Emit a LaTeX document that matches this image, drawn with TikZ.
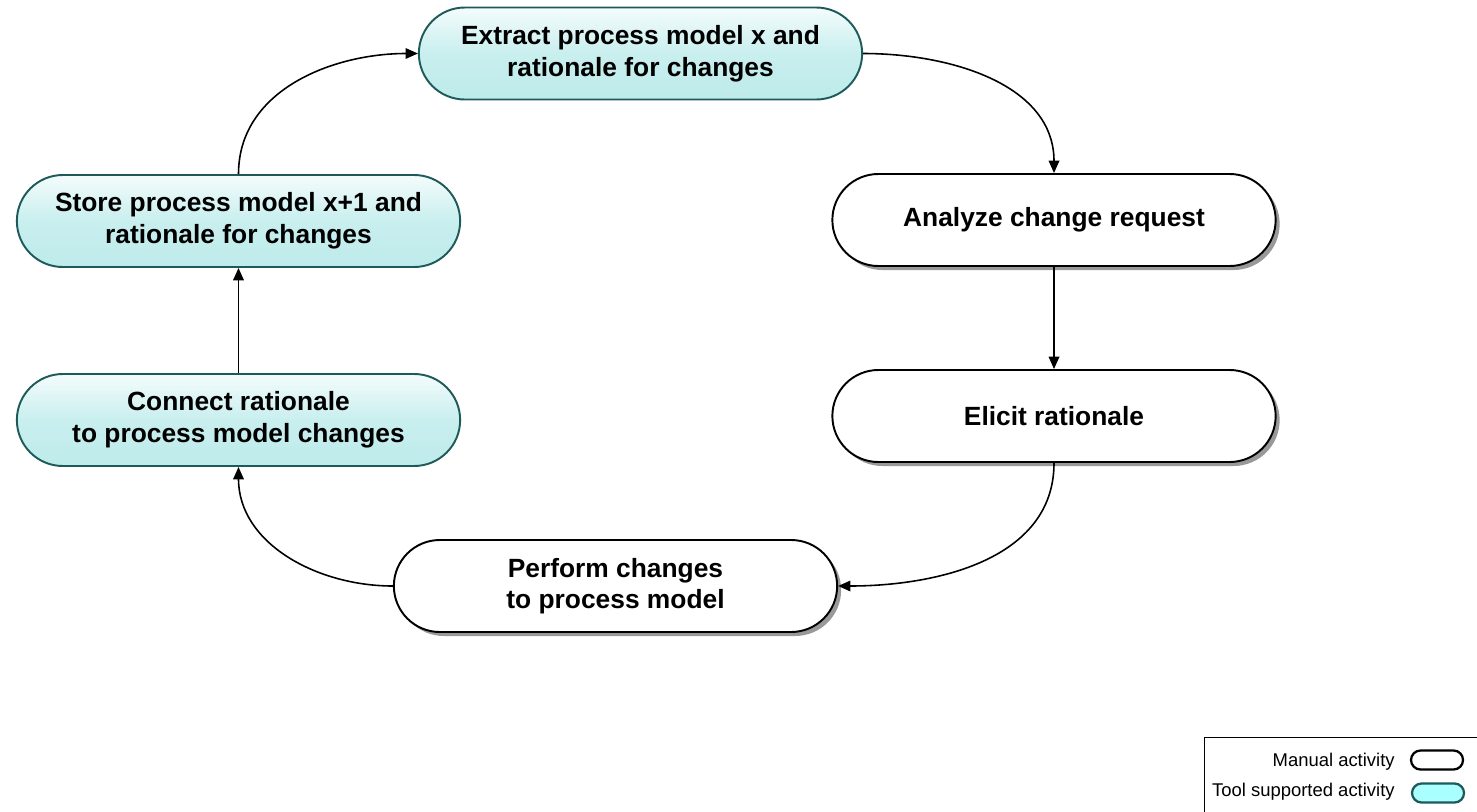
\documentclass[tikz,border=0pt]{standalone}
\usepackage{fontspec}
\setmainfont{Liberation Sans}
\usepackage{tikz}
\usetikzlibrary{shapes.misc, arrows.meta, shadows}
\definecolor{tealedge}{RGB}{30, 90, 90}
\definecolor{tealtop}{RGB}{244, 252, 252}
\definecolor{tealbot}{RGB}{190, 235, 235}
\definecolor{legcyan}{RGB}{170, 255, 255}

\begin{document}
\begin{tikzpicture}[
  manual/.style={rounded rectangle, draw=black, line width=1.1pt, fill=white, minimum width=9.1cm, minimum height=1.84cm, align=center, font=\fontsize{15}{18}\selectfont\bfseries, drop shadow={shadow xshift=0.08cm, shadow yshift=-0.08cm, fill=black!40, opacity=1}},
  tool/.style={rounded rectangle, draw=tealedge, line width=1.1pt, top color=tealtop, bottom color=tealbot, middle color=tealbot!80!tealtop, minimum width=9.1cm, minimum height=1.84cm, align=center, font=\fontsize{15}{18}\selectfont\bfseries},
  flow/.style={-{Triangle[length=7pt, width=6pt]}, line width=0.9pt},
  legtext/.style={anchor=east, font=\fontsize{10.5}{12}\selectfont, inner sep=0pt},
  legicon/.style={rounded rectangle, line width=1.3pt, minimum width=1.04cm, minimum height=0.38cm, inner sep=0pt}
]
  \useasboundingbox (0, 0) rectangle (29.54, -16.22);

  \node[tool] (extract) at (12.81, -1.07) {Extract process model x and\\rationale for changes};
  \node[manual] (analyze) at (21.08, -4.40) {Analyze change request};
  \node[manual] (elicit) at (21.08, -8.32) {Elicit rationale};
  \node[manual] (perform) at (12.31, -11.72) {Perform changes\\to process model};
  \node[tool] (connect) at (4.77, -8.40) {Connect rationale\\to process model changes};
  \node[tool] (store) at (4.77, -4.42) {Store process model x+1 and\\rationale for changes};

  \draw[flow] (extract.east) to[out=0, in=90] (analyze.north);
  \draw[flow] (analyze.south) -- (elicit.north);
  \draw[flow] (elicit.south) to[out=-90, in=0] (perform.east);
  \draw[flow] (perform.west) to[out=180, in=-90] (connect.south);
  \draw[flow] (connect.north) -- (store.south);
  \draw[flow] (store.north) to[out=90, in=180] (extract.west);

  \node[draw, line width=0.7pt, anchor=north west, minimum width=6cm, minimum height=2cm] (legend) at (24.08, -14.74) {};
  \node[legtext] (manlab) at (27.9, -15.24) {Manual activity};
  \node[legtext] (toollab) at (27.9, -15.84) {Tool supported activity};
  \node[legicon, draw=black, fill=white] (manicon) at (28.74, -15.20) {};
  \node[legicon, draw=tealedge, fill=legcyan] (toolicon) at (28.76, -15.86) {};
\end{tikzpicture}
\end{document}
